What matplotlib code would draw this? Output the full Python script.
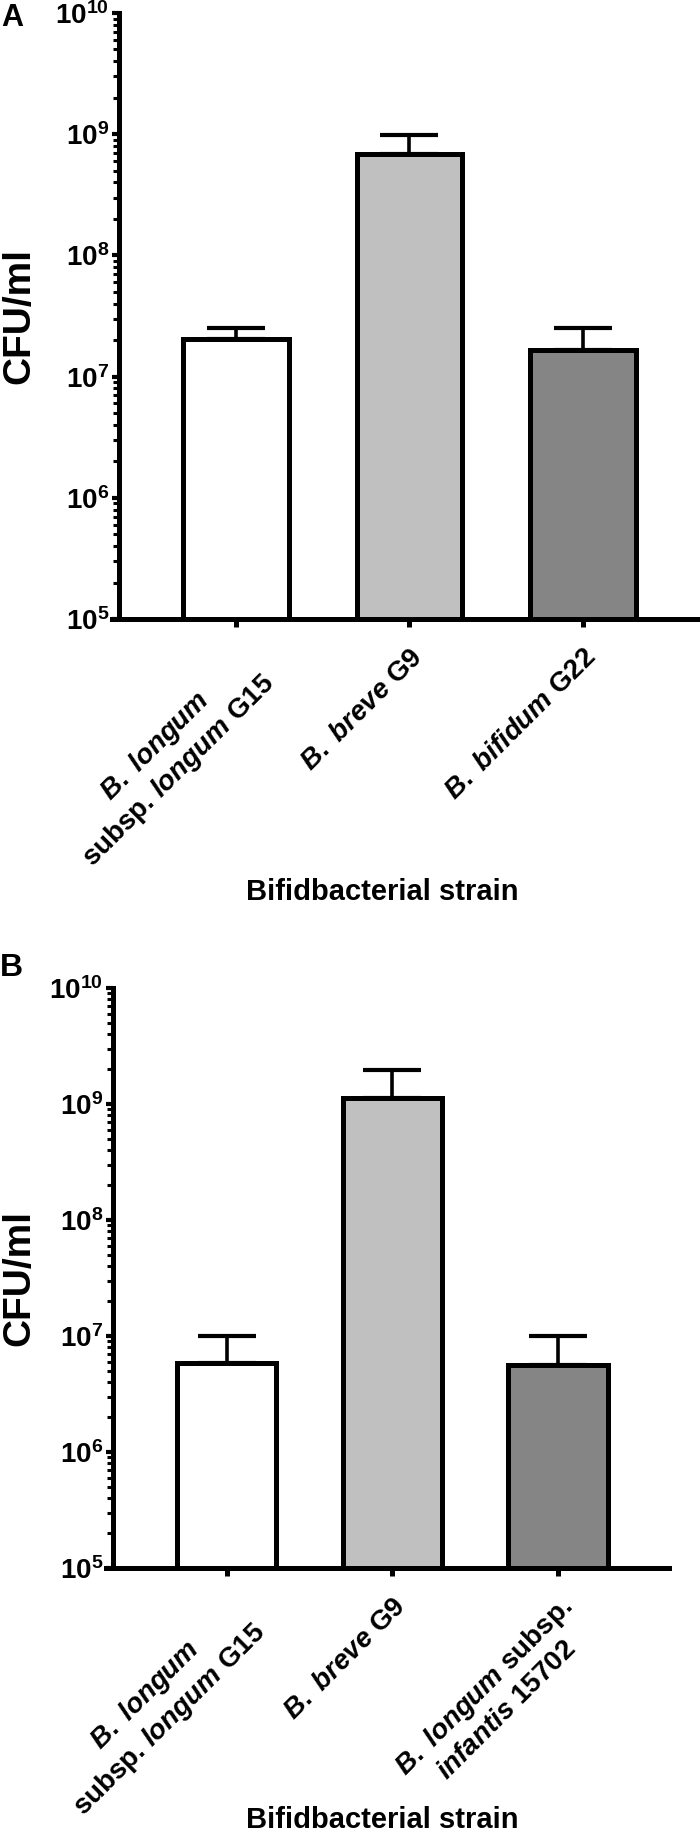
import numpy as np
import matplotlib
matplotlib.use("Agg")
import matplotlib.pyplot as plt
from matplotlib.ticker import FixedLocator, LogLocator, NullFormatter
from matplotlib.transforms import ScaledTranslation

plt.rcParams['font.family'] = 'Liberation Sans'
plt.rcParams['mathtext.fontset'] = 'custom'
plt.rcParams['mathtext.rm'] = 'Liberation Sans:bold'
plt.rcParams['mathtext.bf'] = 'Liberation Sans:bold'
plt.rcParams['mathtext.it'] = 'Liberation Sans:bold:italic'

# dados
strains_a = ['$B.$ $longum$\nsubsp. $longum$ G15',
             '$B.$ $breve$ G9',
             '$B.$ $bifidum$ G22']
cfu_a = [2.05e7, 6.9e8, 1.65e7]
upper_a = [2.5e7, 9.8e8, 2.5e7]

strains_b = ['$B.$ $longum$\nsubsp. $longum$ G15',
             '$B.$ $breve$ G9',
             '$B.$ $longum$ subsp.\n$infantis$ 15702']
cfu_b = [5.9e6, 1.12e9, 5.6e6]
upper_b = [1.0e7, 1.95e9, 1.0e7]

cores = ['white', '#c0c0c0', '#858585']
decadas = [5, 6, 7, 8, 9, 10]

W, H = 700, 1838
fig = plt.figure(figsize=(W / 100, H / 100), dpi=100)


def painel(box, xlim, spine_x, largura, nomes, valores, topos):
    ax = fig.add_axes(box)
    x = np.arange(len(nomes))
    ax.bar(x, valores, width=largura, color=cores, edgecolor='black',
           linewidth=3.6, zorder=2)
    err = [np.zeros(len(valores)), np.array(topos) - np.array(valores)]
    ax.errorbar(x, valores, yerr=err, fmt='none', ecolor='black',
                elinewidth=2.6, capsize=21, capthick=3, zorder=3)
    ax.set_yscale('log')
    ax.set_ylim(1e5, 1e10)
    ax.set_xlim(*xlim)
    ax.yaxis.set_major_locator(FixedLocator([10.0 ** d for d in decadas]))
    ax.set_yticklabels([r'$10^{%d}$' % d for d in decadas])
    ax.yaxis.set_minor_locator(LogLocator(base=10, subs=range(2, 10)))
    ax.yaxis.set_minor_formatter(NullFormatter())
    ax.set_xticks(x)
    ax.set_xticklabels(nomes, rotation=45, ha='right', va='top',
                       rotation_mode='anchor', multialignment='center',
                       fontsize=20, fontweight='bold')
    # empurra os rotulos um pouco para a direita
    desloc = ScaledTranslation(5 / 100, 0, fig.dpi_scale_trans)
    for lbl in ax.get_xticklabels():
        lbl.set_transform(lbl.get_transform() + desloc)
    ax.tick_params(axis='y', which='major', length=5, width=3, labelsize=20,
                   pad=2)
    ax.tick_params(axis='y', which='minor', length=4.5, width=2.2)
    ax.tick_params(axis='x', length=6, width=3.6, pad=12)
    for s in ['top', 'right']:
        ax.spines[s].set_visible(False)
    ax.spines['left'].set_linewidth(3.6)
    ax.spines['bottom'].set_linewidth(3.6)
    ax.spines['left'].set_position(('data', spine_x))
    ax.patch.set_visible(False)
    return ax


# painel A
painel([112 / W, 1 - 619 / H, 588 / W, 606 / H], (-0.714, 2.674), -0.674,
       0.61, strains_a, cfu_a, upper_a)
# painel B
painel([106 / W, 1 - 1568 / H, 563 / W, 580 / H], (-0.729, 2.669), -0.687,
       0.6, strains_b, cfu_b, upper_b)

fig.text(19 / W, 1 - 316 / H, 'CFU/ml', rotation=90, ha='center',
         va='center', fontsize=28, fontweight='bold')
fig.text(19 / W, 1 - 1278 / H, 'CFU/ml', rotation=90, ha='center',
         va='center', fontsize=28, fontweight='bold')
fig.text(382 / W, 1 - 892 / H, 'Bifidbacterial strain', ha='center',
         va='center', fontsize=21, fontweight='bold')
fig.text(382 / W, 1 - 1820 / H, 'Bifidbacterial strain', ha='center',
         va='center', fontsize=21, fontweight='bold')
fig.text(1 / W, 1 - 3 / H, 'A', ha='left', va='top', fontsize=22,
         fontweight='bold')
fig.text(0 / W, 1 - 953 / H, 'B', ha='left', va='top', fontsize=23,
         fontweight='bold')

fig.savefig('out.png', dpi=100, facecolor='white')
